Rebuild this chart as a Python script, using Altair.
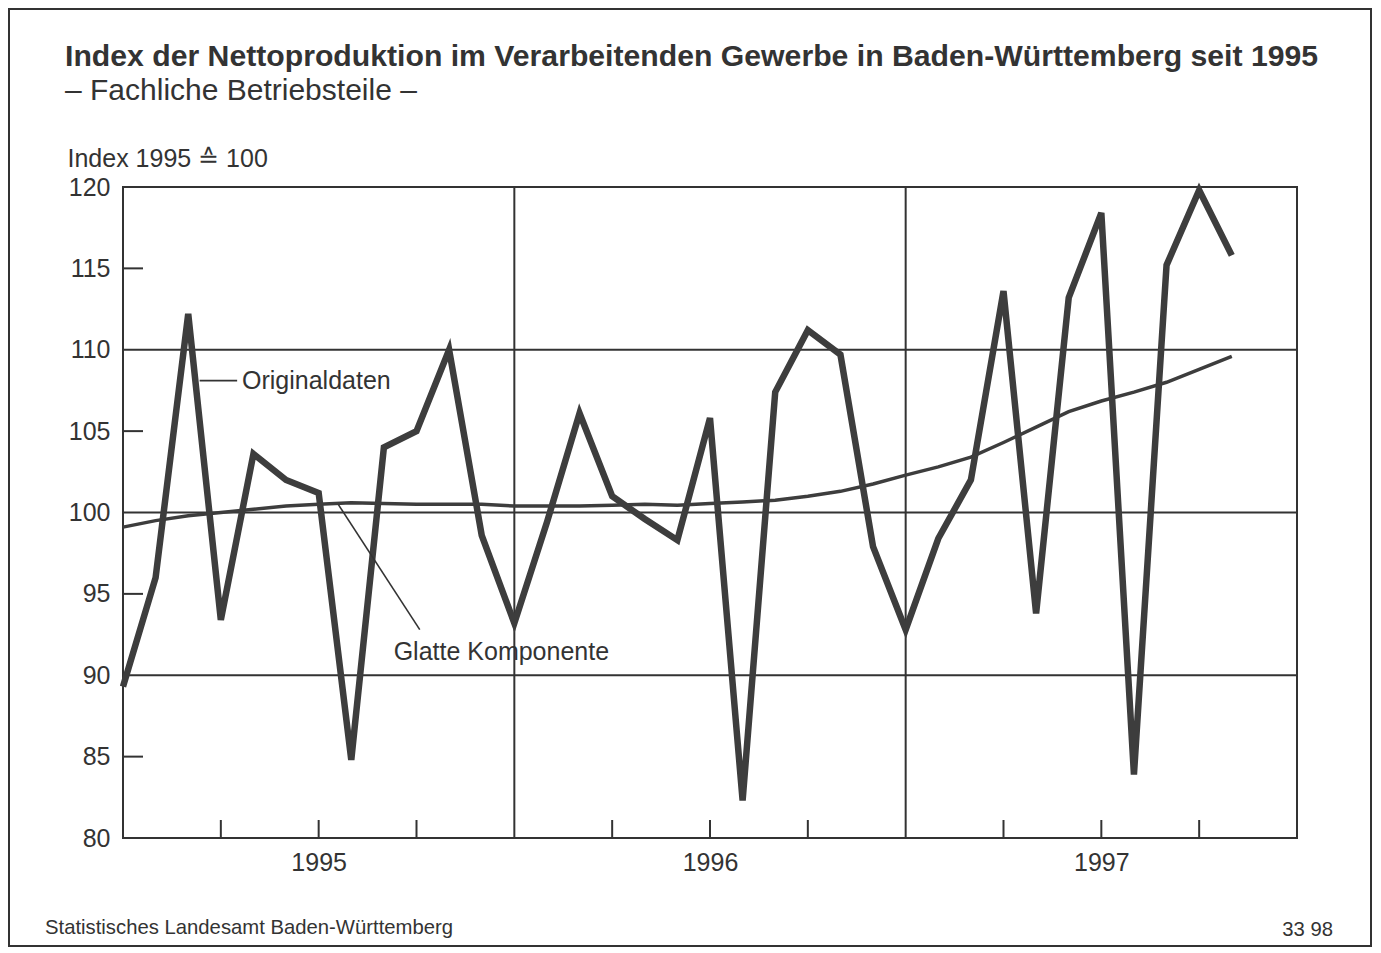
import altair as alt
import pandas as pd

# ---- data ----
months = list(range(35))  # month index, 0 = start of 1995
original = [89.3, 96.0, 112.2, 93.4, 103.6, 102.0, 101.2, 84.8, 104.0, 105.0,
            110.0, 98.6, 93.2, 99.4, 106.1, 101.0, 99.6, 98.3, 105.8, 82.3,
            107.4, 111.2, 109.7, 97.9, 92.8, 98.4, 102.0, 113.6, 93.8, 113.2,
            118.4, 83.9, 115.2, 119.8, 115.8]
smooth = [99.1, 99.5, 99.8, 100.0, 100.2, 100.4, 100.5, 100.6, 100.55, 100.5,
          100.5, 100.5, 100.4, 100.4, 100.4, 100.45, 100.5, 100.45, 100.55, 100.65,
          100.75, 101.0, 101.3, 101.75, 102.3, 102.8, 103.4, 104.3, 105.25, 106.2,
          106.85, 107.4, 108.0, 108.8, 109.6]
year_labels = ["1995", "1996", "1997"]
year_label_pos = [6, 18, 30]
year_bounds = [12, 24]
quarter_ticks = [3, 6, 9, 15, 18, 21, 27, 30, 33]
y_labels = [80, 85, 90, 95, 100, 105, 110, 115, 120]
y_grid = [90, 100, 110]
y_short = [85, 95, 105, 115]

title_text = "Index der Nettoproduktion im Verarbeitenden Gewerbe in Baden-Württemberg seit 1995"
subtitle_text = "– Fachliche Betriebsteile –"
y_title = "Index 1995 ≙ 100"
source_text = "Statistisches Landesamt Baden-Württemberg"
code_text = "33 98"

ann_labels = ["Originaldaten", "Glatte Komponente"]
ann_x = [3.65, 8.3]
ann_y = [108.1, 91.4]
lead_x = [2.35, 6.6]
lead_x2 = [3.5, 9.1]
lead_y = [108.1, 100.5]
lead_y2 = [108.1, 92.8]

# ---- layout ----
W, H = 1174, 651
PAD_L, PAD_T, PAD_R, PAD_B = 115, 179, 76, 110
FONT = "Liberation Sans, Arial, Helvetica, sans-serif"
INK = "#333333"
LINE = "#3d3d3d"

df = pd.DataFrame({"m": months, "orig": original, "smooth": smooth})

xscale = alt.Scale(domain=[0, 36], nice=False, zero=False)
yscale = alt.Scale(domain=[80, 120], nice=False, zero=False)

label_expr = "[" + ",".join("'%s'" % s for s in year_labels) + "][floor(datum.value / 12)]"

base = alt.Chart(df)

orig_line = base.mark_line(color=LINE, strokeWidth=6.5, strokeJoin="miter",
                           strokeMiterLimit=4).encode(
    x=alt.X("m:Q", scale=xscale,
            axis=alt.Axis(values=year_label_pos, labelExpr=label_expr, ticks=False,
                          domain=False, grid=False, labelFontSize=25, labelFont=FONT,
                          labelColor=INK, labelPadding=12, labelFlush=False, title=None)),
    y=alt.Y("orig:Q", scale=yscale,
            axis=alt.Axis(values=y_labels, ticks=False, domain=False, grid=False,
                          labelFontSize=25, labelFont=FONT, labelColor=INK,
                          labelPadding=13, labelFlush=False,
                          title=y_title, titleAngle=0, titleAlign="left",
                          titleBaseline="middle", titleX=-56, titleY=-29,
                          titleFont=FONT, titleFontSize=25, titleFontWeight="normal",
                          titleColor=INK)),
)

smooth_line = base.mark_line(color=LINE, strokeWidth=3.5).encode(
    x=alt.X("m:Q", scale=xscale), y=alt.Y("smooth:Q", scale=yscale))

grid_df = pd.DataFrame({"v": y_grid})
grid = alt.Chart(grid_df).mark_rule(color=INK, strokeWidth=2).encode(
    y=alt.Y("v:Q", scale=yscale))

short_df = pd.DataFrame({"v": y_short})
short = alt.Chart(short_df).mark_rule(color=INK, strokeWidth=2).encode(
    y=alt.Y("v:Q", scale=yscale), x=alt.value(0), x2=alt.value(20))

vgrid_df = pd.DataFrame({"m": year_bounds})
vgrid = alt.Chart(vgrid_df).mark_rule(color=INK, strokeWidth=2).encode(
    x=alt.X("m:Q", scale=xscale))

qt_df = pd.DataFrame({"m": quarter_ticks})
qticks = alt.Chart(qt_df).mark_rule(color=INK, strokeWidth=2).encode(
    x=alt.X("m:Q", scale=xscale), y=alt.value(H), y2=alt.value(H - 18))

lead_df = pd.DataFrame({"x": lead_x, "x2": lead_x2, "y": lead_y, "y2": lead_y2})
leaders = alt.Chart(lead_df).mark_rule(color=INK, strokeWidth=1.6).encode(
    x=alt.X("x:Q", scale=xscale), x2="x2:Q",
    y=alt.Y("y:Q", scale=yscale), y2="y2:Q")

ann_df = pd.DataFrame({"label": ann_labels, "x": ann_x, "y": ann_y})
ann = alt.Chart(ann_df).mark_text(align="left", baseline="middle", fontSize=25,
                                  font=FONT, color=INK).encode(
    x=alt.X("x:Q", scale=xscale), y=alt.Y("y:Q", scale=yscale), text="label:N")

src_df = pd.DataFrame({"label": [source_text]})
src = alt.Chart(src_df).mark_text(align="left", baseline="middle", fontSize=20.3,
                                  font=FONT, color=INK).encode(
    x=alt.value(45 - 123), y=alt.value(928 - 187), text="label:N")

code_df = pd.DataFrame({"label": [code_text]})
code = alt.Chart(code_df).mark_text(align="right", baseline="middle", fontSize=20.3,
                                    font=FONT, color=INK).encode(
    x=alt.value(1333 - 123), y=alt.value(930 - 187), text="label:N")

frame_df = pd.DataFrame({"k": [0]})
frame = alt.Chart(frame_df).mark_rect(fill="transparent", stroke=INK,
                                      strokeWidth=2).encode(
    x=alt.value(-PAD_L + 1), x2=alt.value(W + PAD_R - 2),
    y=alt.value(-PAD_T + 1), y2=alt.value(H + PAD_B - 2))

chart = alt.layer(grid, short, vgrid, qticks, smooth_line, orig_line, leaders,
                  ann, src, code, frame).properties(
    width=W, height=H,
    autosize=alt.AutoSizeParams(type="none"),
    padding={"left": PAD_L, "top": PAD_T, "right": PAD_R, "bottom": PAD_B},
    title=alt.TitleParams(text=title_text, subtitle=subtitle_text, anchor="start",
                          frame="group", dx=-58, dy=98, font=FONT, fontSize=30.2,
                          fontWeight="bold", color=INK, subtitleFont=FONT,
                          subtitleFontSize=30, subtitleColor=INK,
                          subtitlePadding=4, offset=0),
).configure(background="white").configure_view(stroke=INK, strokeWidth=2)

chart.save("out.html", embed_options={"renderer": "svg", "actions": False})
